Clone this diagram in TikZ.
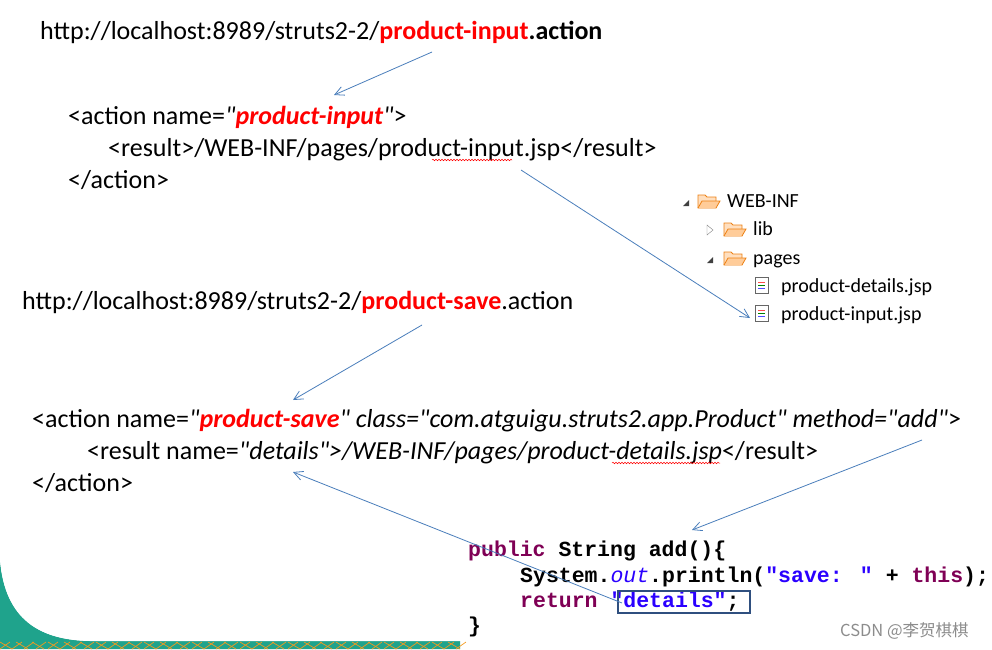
\documentclass[tikz,border=0pt]{standalone}
\usepackage{fontspec}
\setmainfont{Carlito}[Mapping=]
\newfontfamily\codefont{Liberation Mono}[Mapping=]
\newfontfamily\wmfont{Noto Sans CJK SC}
\usetikzlibrary{decorations.pathmorphing,arrows.meta}
\newcommand\dq{\char34\relax}
\definecolor{arrowblue}{HTML}{4A7EBB}
\definecolor{kwred}{HTML}{7F0055}
\definecolor{strblue}{HTML}{2A00FF}
\definecolor{boxblue}{HTML}{2F4F7F}
\definecolor{teal1}{HTML}{1FA38C}
\definecolor{orng}{HTML}{F39A1E}
\definecolor{redt}{HTML}{FF0000}
\begin{document}
\begin{tikzpicture}[x=1pt,y=-1pt,
  txt/.style={inner sep=0pt,anchor=base west,font=\fontsize{26}{28}\selectfont},
  code/.style={inner sep=0pt,anchor=base west,font=\codefont\bfseries\fontsize{21.5}{24}\selectfont},
  tree/.style={inner sep=0pt,anchor=base west,font=\fontsize{20}{22}\selectfont},
  arr/.style={draw=arrowblue,line width=0.8pt,-{Straight Barb[length=9pt,width=9pt]}},
  wavy/.style={draw=redt,line width=0.5pt,decorate,decoration={snake,amplitude=0.8pt,segment length=3pt}},
  folder/.style={draw=orange!70!brown,fill=orange!25,line width=0.8pt}]
\useasboundingbox (0,0) rectangle (992,649);
% bottom-left decoration
\fill[teal1] (0,560) .. controls (5,620) and (40,640) .. (90,641) -- (460,641) -- (460,649) -- (0,649) -- cycle;
\foreach \i in {0,12,...,456}{\draw[orng,line width=0.7pt] (\i,649) -- (\i+10,642);}
\foreach \i in {0,16,...,456}{\draw[orng,line width=0.7pt] (\i,642) -- (\i+12,649);}
\fill[white] (0,560) .. controls (5,620) and (40,640) .. (90,641) -- (460,641) -- (460,0) -- (0,0) -- cycle;

% block 1
\node[txt] (u1) at (40,39) {http://localhost:8989/struts2-2/\textcolor{redt}{\textbf{product-input}}\textbf{.action}};
\node[txt] (a1) at (68,124) {<action name=\textit{\dq\textcolor{redt}{\textbf{product-input}}\dq}>};
\node[txt] (r1) at (108,156) {<result>/WEB-INF/pages/product-input.jsp</result>};
\node[txt] (e1) at (68,188) {</action>};
\draw[wavy] (432,160) -- (512,160);

% tree
\node[tree] (t0) at (727,207) {WEB-INF};
\node[tree] (t1) at (753,235) {lib};
\node[tree] (t2) at (753,264) {pages};
\node[tree] (t3) at (781,292) {product-details.jsp};
\node[tree] (t4) at (781,320) {product-input.jsp};
\fill[black!75] (683,206) -- (689,200) -- (689,206) -- cycle;
\draw[black!50] (707,225) -- (713,230) -- (707,235) -- cycle;
\fill[black!75] (707,263) -- (713,257) -- (713,263) -- cycle;
\foreach \yy/\xx in {201/698,229/724,258/724}{
  \draw[folder] (\xx,\yy-6) -- (\xx+7,\yy-6) -- (\xx+9,\yy-4) -- (\xx+18,\yy-4) -- (\xx+18,\yy+7) -- (\xx,\yy+7) -- cycle;
  \draw[folder,fill=orange!40] (\xx,\yy+7) -- (\xx+4,\yy) -- (\xx+22,\yy) -- (\xx+18,\yy+7);}
\foreach \yy in {285,313}{
  \draw[black!60,fill=white] (755,\yy-8) rectangle (768,\yy+8);
  \draw[red!70] (758,\yy-3) -- (765,\yy-3);
  \draw[green!50!black] (758,\yy) -- (765,\yy);
  \draw[blue!70] (758,\yy+3) -- (765,\yy+3);}

% block 2
\node[txt] (u2) at (22,309) {http://localhost:8989/struts2-2/\textcolor{redt}{\textbf{product-save}}.action};
\node[txt] (a2) at (32,427) {<action name=\textit{\dq\textcolor{redt}{\textbf{product-save}}\dq{} class=\dq com.atguigu.struts2.app.Product\dq{} method=\dq add\dq}>};
\node[txt] (r2) at (87,459) {<result name=\textit{\dq details\dq>/WEB-INF/pages/product-details.jsp}</result>};
\node[txt] (e2) at (32,491) {</action>};
\draw[wavy] (612,463) -- (720,463);

% code
\node[code] (c1) at (468,556) {\textcolor{kwred}{public} String add()\{};
\node[code] (c2) at (520,582) {System.\textcolor{strblue}{\mdseries\itshape out}.println(\textcolor{strblue}{\dq save: \dq} + \textcolor{kwred}{this});};
\node[code] (c3) at (520,607) {\textcolor{kwred}{return} \textcolor{strblue}{\dq details\dq};};
\node[code] (c4) at (468,632) {\}};
\node[draw=boxblue,line width=1.5pt,inner sep=0pt,minimum width=132pt,minimum height=22pt,anchor=north west] (bx) at (617,590) {};

\node[inner sep=0pt,anchor=base west,text=black!45,font=\wmfont\fontsize{16.5}{18}\selectfont] (wm) at (840,636) {CSDN @李贺棋棋};

% arrows
\coordinate (s1) at (432,52); \coordinate (d1) at (334,95);
\coordinate (s2) at (521,170); \coordinate (d2) at (750,318);
\coordinate (s3) at (422,325); \coordinate (d3) at (293,400);
\coordinate (s4) at (922,440); \coordinate (d4) at (692,530);
\coordinate (s5) at (622,603); \coordinate (d5) at (293,472);
\draw[arr] (s1) -- (d1);
\draw[arr] (s2) -- (d2);
\draw[arr] (s3) -- (d3);
\draw[arr] (s4) -- (d4);
\draw[arr] (s5) -- (d5);
\end{tikzpicture}
\end{document}
